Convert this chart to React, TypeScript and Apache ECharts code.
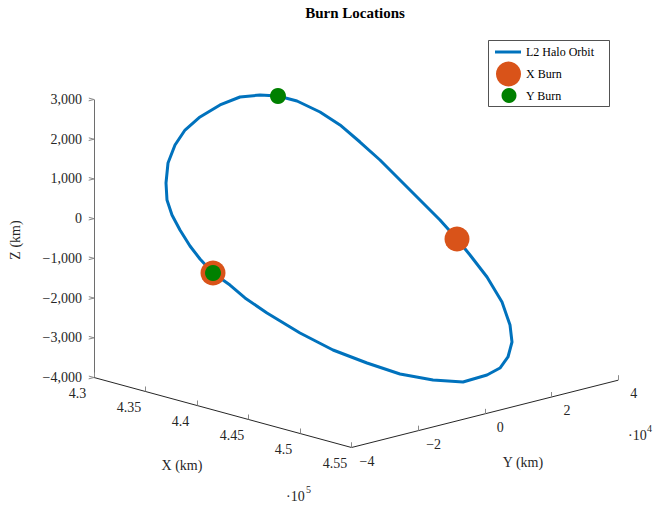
import { useEffect, useRef } from "react";
import * as echarts from "echarts";

// ---- data (km) ----
const orbitX = [435250, 435750, 436500, 437250, 438250, 439250, 440250, 441500, 442750, 444000, 445250, 446500, 447750, 448750, 449500, 450250, 450750, 451000, 451000, 450500, 449750, 448750, 447500, 446000, 444250, 443000, 441750, 440500, 439250, 438250, 437250, 436500, 435875, 435375, 435000, 434625, 434375, 434250, 434300, 434500, 434750];
const orbitY = [-1032, 3128, 7712, 11392, 14296, 17208, 20120, 22256, 24392, 25632, 25672, 26904, 27544, 26856, 25136, 21616, 17672, 13000, 5808, -1648, -9232, -16040, -22376, -27640, -32136, -34872, -35512, -36744, -36784, -36696, -36608, -36688, -36256, -35008, -33248, -29992, -26216, -21336, -15488, -10112, -4880];
const orbitZ = [2633, 2454, 2133, 1781, 1361, 917, 422, -39, -500, -916, -1231, -1723, -2278, -2772, -3111, -3361, -3520, -3579, -3603, -3430, -3171, -2821, -2447, -2013, -1538, -1190, -938, -697, -432, -177, 153, 480, 804, 1171, 1611, 1968, 2248, 2464, 2646, 2747, 2704];

const xBurnX = [444000, 440500];
const xBurnY = [25632, -36744];
const xBurnZ = [-916, -697];

const yBurnX = [435250, 440500];
const yBurnY = [-1032, -36744];
const yBurnZ = [2633, -697];

const xTicks = [430000, 435000, 440000, 445000, 450000, 455000];
const xTickLabels = ["4.3", "4.35", "4.4", "4.45", "4.5", "4.55"];
const yTicks = [-40000, -20000, 0, 20000, 40000];
const yTickLabels = ["\u22124", "\u22122", "0", "2", "4"];
const zTicks = [-4000, -3000, -2000, -1000, 0, 1000, 2000, 3000];
const zTickLabels = ["\u22124,000", "\u22123,000", "\u22122,000", "\u22121,000", "0", "1,000", "2,000", "3,000"];

const X_MIN = 430000, X_MAX = 455000;
const Y_MIN = -40000, Y_MAX = 40000;
const Z_MIN = -4000, Z_MAX = 3000;

// ---- view (orthographic projection, pixels) ----
const ORIGIN = [94, 377.5];
const VX = [257.5, 70];
const VY = [266.7, -67.3];
const VZ = [0, -278];

function proj(x: number, y: number, z: number): [number, number] {
  const a = (x - X_MIN) / (X_MAX - X_MIN);
  const b = (y - Y_MIN) / (Y_MAX - Y_MIN);
  const c = (z - Z_MIN) / (Z_MAX - Z_MIN);
  return [
    ORIGIN[0] + VX[0] * a + VY[0] * b + VZ[0] * c,
    ORIGIN[1] + VX[1] * a + VY[1] * b + VZ[1] * c,
  ];
}

const FONT = "'Liberation Serif', 'Times New Roman', serif";
const TXT = "#262626";

function txt(text: string, x: number, y: number, opts: any = {}) {
  return {
    type: "text",
    x,
    y,
    rotation: opts.rotation || 0,
    silent: true,
    style: {
      text,
      fill: opts.fill || TXT,
      fontSize: opts.fontSize || 14,
      fontFamily: FONT,
      fontWeight: opts.fontWeight || "normal",
      align: opts.align || "center",
      textAlign: opts.align || "center",
      verticalAlign: "middle",
      textVerticalAlign: "middle",
    },
  };
}

export default function App() {
  const ref = useRef<HTMLDivElement>(null);
  useEffect(() => {
    const chart = echarts.init(ref.current!, null, { renderer: "svg" });

    const orbit = orbitX.map((x, i) => proj(x, orbitY[i], orbitZ[i]));
    orbit.push(orbit[0]);

    const XR = X_MAX - X_MIN, YR = Y_MAX - Y_MIN, ZR = Z_MAX - Z_MIN;

    const axisSegs = [
      { coords: [proj(X_MIN, Y_MIN, Z_MIN), proj(X_MIN, Y_MIN, Z_MAX)], lineStyle: { color: "#6e6e6e" } },
      { coords: [proj(X_MIN, Y_MIN, Z_MIN), proj(X_MAX, Y_MIN, Z_MIN)] },
      { coords: [proj(X_MAX, Y_MIN, Z_MIN), proj(X_MAX, Y_MAX, Z_MIN)] },
    ];

    const tickSegs: any[] = [];
    zTicks.forEach((z) => {
      const p = proj(X_MIN, Y_MIN, z);
      tickSegs.push({ coords: [p, proj(X_MIN - 0.02 * XR, Y_MIN, z)] });
      tickSegs.push({ coords: [p, proj(X_MIN, Y_MIN - 0.02 * YR, z)] });
    });
    xTicks.forEach((x) => {
      tickSegs.push({ coords: [proj(x, Y_MIN, Z_MIN), proj(x, Y_MIN, Z_MIN + 0.018 * ZR)] });
    });
    yTicks.forEach((y) => {
      tickSegs.push({ coords: [proj(X_MAX, y, Z_MIN), proj(X_MAX, y, Z_MIN + 0.018 * ZR)] });
    });

    const graphics: any[] = [];
    zTicks.forEach((z, i) => {
      const p = proj(X_MIN, Y_MIN, z);
      graphics.push(txt(zTickLabels[i], p[0] - 12, p[1], { align: "right" }));
    });
    xTicks.forEach((x, i) => {
      const p = proj(x, Y_MIN, Z_MIN);
      graphics.push(txt(xTickLabels[i], p[0] - 16.5, p[1] + 15.5));
    });
    yTicks.forEach((y, i) => {
      const p = proj(X_MAX, y, Z_MIN);
      graphics.push(txt(yTickLabels[i], p[0] + 15.5, p[1] + 13.5));
    });

    // axis titles & exponents
    graphics.push(txt("X (km)", 182, 465));
    graphics.push(txt("Y (km)", 523, 462));
    graphics.push(txt("Z (km)", 15, 240, { rotation: Math.PI / 2 }));
    graphics.push(txt("\u00b710", 286, 496, { align: "left" }));
    graphics.push(txt("5", 306, 489, { align: "left", fontSize: 10 }));
    graphics.push(txt("\u00b710", 628, 435, { align: "left" }));
    graphics.push(txt("4", 647, 428, { align: "left", fontSize: 10 }));

    // title
    graphics.push(txt("Burn Locations", 355, 13, { fontWeight: "bold", fontSize: 15, fill: "#000" }));

    // legend
    graphics.push({
      type: "rect",
      silent: true,
      shape: { x: 488.5, y: 40.5, width: 121, height: 66 },
      style: { fill: "#fff", stroke: "#262626", lineWidth: 0.8 },
      z: 10,
    });
    graphics.push({
      type: "line",
      silent: true,
      shape: { x1: 495, y1: 52, x2: 521, y2: 52 },
      style: { stroke: "#0072BD", lineWidth: 3 },
      z: 11,
    });
    graphics.push({
      type: "circle",
      silent: true,
      shape: { cx: 508.5, cy: 74, r: 12.5 },
      style: { fill: "#D95319" },
      z: 11,
    });
    graphics.push({
      type: "circle",
      silent: true,
      shape: { cx: 509, cy: 95.5, r: 7.5 },
      style: { fill: "#008000" },
      z: 11,
    });
    const lt = [
      ["L2 Halo Orbit", 52],
      ["X Burn", 74],
      ["Y Burn", 95.5],
    ];
    lt.forEach(([t, y]) => {
      const g: any = txt(t as string, 526, y as number, { align: "left", fontSize: 12, fill: "#000" });
      g.z = 12;
      graphics.push(g);
    });

    const option: any = {
      animation: false,
      backgroundColor: "#fff",
      grid: { left: 0, right: 0, top: 0, bottom: 0, containLabel: false },
      xAxis: { type: "value", min: 0, max: 655, show: false },
      yAxis: { type: "value", min: 0, max: 506, inverse: true, show: false },
      graphic: graphics,
      series: [
        {
          type: "lines",
          coordinateSystem: "cartesian2d",
          silent: true,
          lineStyle: { color: "#262626", width: 1, opacity: 1 },
          data: axisSegs,
          z: 1,
        },
        {
          type: "lines",
          coordinateSystem: "cartesian2d",
          silent: true,
          lineStyle: { color: "#8a8a8a", width: 1, opacity: 1 },
          data: tickSegs,
          z: 1,
        },
        {
          name: "L2 Halo Orbit",
          type: "line",
          data: orbit,
          symbol: "none",
          clip: false,
          silent: true,
          lineStyle: { color: "#0072BD", width: 3, join: "round" },
          z: 2,
        },
        {
          name: "X Burn",
          type: "scatter",
          data: xBurnX.map((x, i) => proj(x, xBurnY[i], xBurnZ[i])),
          symbol: "circle",
          symbolSize: 25,
          itemStyle: { color: "#D95319", opacity: 1 },
          silent: true,
          z: 3,
        },
        {
          name: "Y Burn",
          type: "scatter",
          data: yBurnX.map((x, i) => proj(x, yBurnY[i], yBurnZ[i])),
          symbol: "circle",
          symbolSize: 16,
          itemStyle: { color: "#008000", opacity: 1 },
          silent: true,
          z: 4,
        },
      ],
    };
    chart.setOption(option);
    return () => chart.dispose();
  }, []);
  return (
    <div
      ref={ref}
      style={{ position: "fixed", left: 0, top: 0, width: 655, height: 506, background: "#fff" }}
    />
  );
}
